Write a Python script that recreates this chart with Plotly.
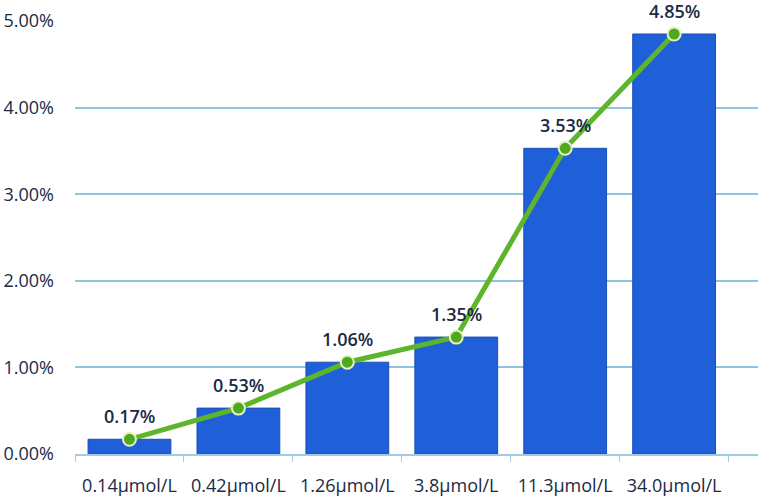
import plotly.graph_objects as go

# Дані
categories = ["0.14μmol/L", "0.42μmol/L", "1.26μmol/L", "3.8μmol/L", "11.3μmol/L", "34.0μmol/L"]
values = [0.0017, 0.0053, 0.0106, 0.0135, 0.0353, 0.0485]
labels = ["0.17%", "0.53%", "1.06%", "1.35%", "3.53%", "4.85%"]

fig = go.Figure()

# Стовпці
fig.add_trace(go.Bar(
    x=categories, y=values, width=0.76,
    marker=dict(color="#1F5FD8", line=dict(color="#1A4FB8", width=1)),
    showlegend=False, hoverinfo="skip",
))

# Лінія з точками
fig.add_trace(go.Scatter(
    x=categories, y=values, mode="lines+markers",
    line=dict(color="#5CB52A", width=5),
    marker=dict(size=13, color="#4FA81E", line=dict(color="#E4F2C4", width=2)),
    cliponaxis=False, showlegend=False,
))

# Підписи значень над точками
for c, v, t in zip(categories, values, labels):
    fig.add_annotation(x=c, y=v, text=t, showarrow=False, yshift=23, yanchor="middle",
                       font=dict(family="Open Sans", size=18, color="#1B2A44", weight=600))

fig.update_layout(
    width=774, height=497,
    margin=dict(l=75, r=16, t=21, b=43),
    paper_bgcolor="white", plot_bgcolor="white",
    font=dict(family="Open Sans", size=18, color="#1B2A44"),
    bargap=0.24,
)

fig.update_xaxes(
    type="category", range=[-0.5, 5.77], automargin=False,
    showline=True, linecolor="#9FCBE3", linewidth=2,
    ticks="outside", tickson="boundaries", ticklen=6, tickcolor="#9FCBE3",
    ticklabelstandoff=14,
    showgrid=False, tickfont=dict(size=18, color="#1B2A44", weight=500),
)
fig.update_yaxes(
    range=[0, 0.05], tickvals=[0, 0.01, 0.02, 0.03, 0.04, 0.05], tickformat=".2%",
    automargin=False,
    showgrid=True, gridcolor="#8EC4E0", gridwidth=2, zeroline=False,
    ticks="", ticklabelstandoff=20, tickfont=dict(size=18, color="#1B2A44", weight=500),
)

# Прибираємо стандартний відступ сторінки, щоб фігура стала у (0, 0)
fig.write_html("out.html", config={"displayModeBar": False},
               post_script="document.body.style.margin='0';")
